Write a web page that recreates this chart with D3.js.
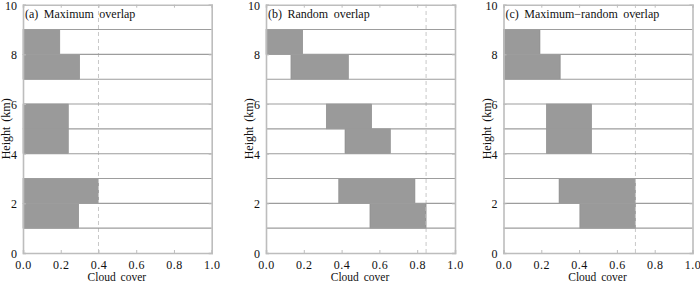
<!DOCTYPE html>
<html><head><meta charset="utf-8">
<script src="https://cdn.jsdelivr.net/npm/d3@7"></script>
<style>html,body{margin:0;padding:0;background:#fff;}svg{display:block;}
svg text{font-family:"Times New Roman","Liberation Serif",serif;}</style>
</head><body>
<script>
const titles = ["(a) Maximum overlap", "(b) Random overlap", "(c) Maximum\u2212random overlap"];
const layerBase = [8, 7, 5, 4, 2, 1];
const startA = [0, 0, 0, 0, 0, 0];
const endA = [0.195, 0.30, 0.24, 0.24, 0.40, 0.295];
const startB = [0, 0.132, 0.319, 0.418, 0.385, 0.55];
const endB = [0.194, 0.436, 0.559, 0.658, 0.788, 0.847];
const startC = [0, 0, 0.227, 0.227, 0.294, 0.404];
const endC = [0.193, 0.30, 0.466, 0.466, 0.698, 0.698];
const totalCover = [0.40, 0.847, 0.698];
const xTicks = [0, 0.2, 0.4, 0.6, 0.8, 1.0];
const yTicks = [0, 2, 4, 6, 8, 10];
const gridLevels = [1, 2, 3, 4, 5, 6, 7, 8, 9];

const W = 700, H = 282;
const svg = d3.select("body").append("svg").attr("width", W).attr("height", H);
const panelX = [[23, 211.7], [266, 455], [503.5, 692.5]];
const y = d3.scaleLinear().domain([0, 10]).range([253, 4.7]);
const starts = [startA, startB, startC], ends = [endA, endB, endC];
const font = '"Times New Roman", "Liberation Serif", serif';

panelX.forEach((rng, p) => {
  const x = d3.scaleLinear().domain([0, 1]).range(rng);
  const g = svg.append("g");
  g.selectAll("rect.bar").data(layerBase).enter().append("rect")
    .attr("x", (d, i) => x(starts[p][i]))
    .attr("width", (d, i) => x(ends[p][i]) - x(starts[p][i]))
    .attr("y", d => y(d + 1))
    .attr("height", d => y(d) - y(d + 1))
    .attr("fill", "#9a9a9a").attr("stroke", "#888").attr("stroke-width", 0.6);
  g.append("line").attr("x1", x(totalCover[p])).attr("x2", x(totalCover[p]))
    .attr("y1", y(0)).attr("y2", y(10))
    .attr("stroke", "#c8c8c8").attr("stroke-width", 1).attr("stroke-dasharray", "4,3");
  g.selectAll("line.grid").data(gridLevels).enter().append("line")
    .attr("x1", rng[0]).attr("x2", rng[1])
    .attr("y1", d => y(d)).attr("y2", d => y(d))
    .attr("stroke", "#9d9d9d").attr("stroke-width", 1.1);
  const bottom = d3.axisBottom(x).tickValues(xTicks).tickSize(-3).tickFormat(d3.format(".1f")).tickPadding(7);
  const top = d3.axisTop(x).tickValues(xTicks).tickSize(-3).tickFormat("");
  const left = d3.axisLeft(y).tickValues(yTicks).tickSize(-3).tickFormat(d3.format("d")).tickPadding(6);
  const right = d3.axisRight(y).tickValues(yTicks).tickSize(-3).tickFormat("");
  const ab = g.append("g").attr("transform", `translate(0,${y(0)})`).call(bottom);
  const at = g.append("g").attr("transform", `translate(0,${y(10)})`).call(top);
  const al = g.append("g").attr("transform", `translate(${rng[0]},0)`).call(left);
  const ar = g.append("g").attr("transform", `translate(${rng[1]},0)`).call(right);
  [ab, at, al, ar].forEach(a => {
    a.attr("font-family", null).style("font-family", font);
    a.select(".domain").attr("stroke", "#bdbdbd").attr("stroke-width", 1.6);
    a.selectAll(".tick line").attr("stroke", "#bdbdbd").attr("stroke-width", 1);
    a.selectAll("text").style("font-family", font).attr("font-size", 12).attr("fill", "#111");
  });
  ab.selectAll("text").attr("letter-spacing", 0.5);
  al.selectAll("text").attr("dy", "0.36em");
  g.append("text").attr("x", rng[0] + 2).attr("y", 18)
    .style("font-family", font).attr("font-size", 12).attr("word-spacing", 2.5).attr("fill", "#111")
    .text(titles[p]);
  g.append("text").attr("x", (rng[0] + rng[1]) / 2 - 0.5).attr("y", 281)
    .attr("text-anchor", "middle").style("font-family", font).attr("font-size", 11.5)
    .attr("word-spacing", 2).attr("fill", "#111").text("Cloud cover");
  g.append("text").attr("transform", `translate(${rng[0] - 13},${y(5)}) rotate(-90)`)
    .attr("text-anchor", "middle").style("font-family", font).attr("font-size", 12)
    .attr("word-spacing", 2).attr("fill", "#111").text("Height (km)");
});
</script>
</body></html>
